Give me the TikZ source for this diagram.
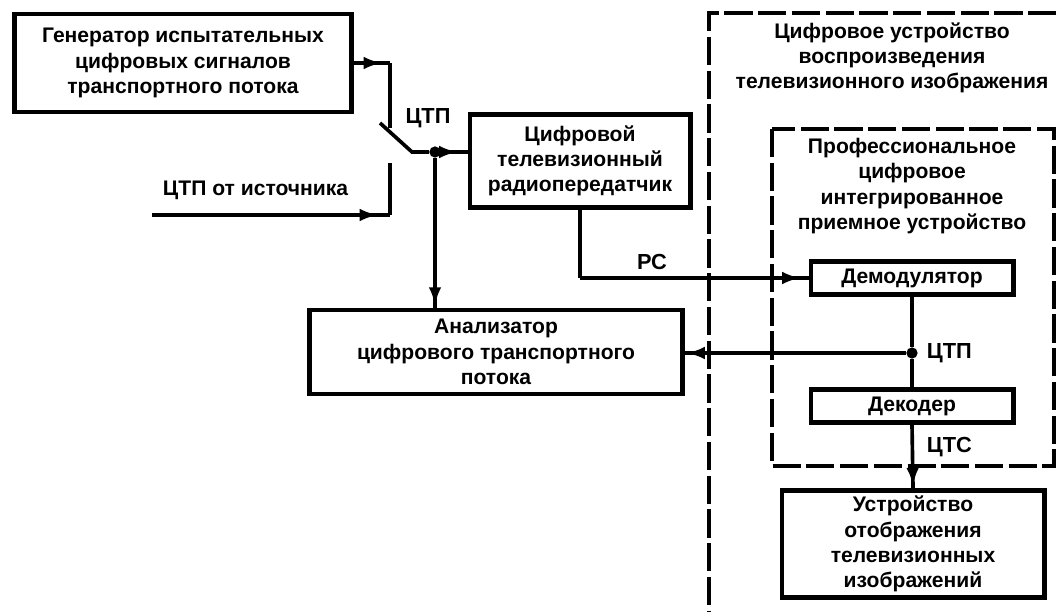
\documentclass[tikz,border=0pt]{standalone}
\usepackage{fontspec}
\setmainfont{Liberation Sans}
\usetikzlibrary{arrows.meta,decorations.markings}

\begin{document}
\begin{tikzpicture}[x=0.025cm, y=-0.025cm,
	txt/.style={font=\bfseries\fontsize{15}{18}\selectfont, align=center},
	lbl/.style={font=\bfseries\fontsize{15.5}{18}\selectfont},
	box/.style={txt, draw, line width=3.5pt, inner sep=0pt},
	conn/.style={line width=2.6pt},
	dashbox/.style={line width=2.2pt, dash pattern=on 20pt off 4pt},
	arrowmark/.style={postaction={decorate}, decoration={markings,
		mark=at position #1 with {\arrow{Latex[length=13pt,width=9pt]}}}},
	dot/.style={circle, fill, inner sep=0pt, minimum size=8pt}]
	\useasboundingbox (0,0) rectangle (1062,611);
	\clip (0,0) rectangle (1062,611);

	% device frames
	\draw[dashbox] (1090,13) -- (709,13) -- (709,640);
	\draw[dashbox] (772,129) rectangle (1054,466);
	\node[txt] (rx) at (892,58) {Цифровое устройство\\воспроизведения\\телевизионного изображения};
	\node[txt] (ird) at (912,186) {Профессиональное\\цифровое\\интегрированное\\приемное устройство};

	% blocks
	\node[box, minimum width=8.4cm, minimum height=2.45cm] (gen) at (183,63) {Генератор испытательных\\цифровых сигналов\\транспортного потока};
	\node[box, minimum width=5.5cm, minimum height=2.325cm] (tx) at (580,161) {Цифровой\\телевизионный\\радиопередатчик};
	\node[box, minimum width=9.3cm, minimum height=2.1cm] (an) at (496,352) {Анализатор\\цифрового транспортного\\потока};
	\node[box, minimum width=5.05cm, minimum height=0.825cm] (dem) at (912,278) {Демодулятор};
	\node[box, minimum width=5.05cm, minimum height=0.825cm] (dec) at (912,406) {Декодер};
	\node[box, minimum width=6.55cm, minimum height=2.675cm] (disp) at (913,544) {Устройство\\отображения\\телевизионных\\изображений};

	% switch
	\coordinate (upc) at (390,128);
	\coordinate (loc) at (390,163);
	\coordinate (blade) at (380,123);
	\coordinate (pv) at (412,152);
	\coordinate (src) at (152,215);
	\node[dot] (j1) at (435,152) {};
	\node[dot] (j2) at (912,353) {};

	\draw[conn, arrowmark=-0.2cm] (gen.east) -- (gen.east -| upc);
	\draw[conn] (gen.east -| upc) -- (upc);
	\draw[conn] (blade) -- (pv) -- (j1);
	\draw[conn, arrowmark=-0.3cm] (src) -- (src -| loc);
	\draw[conn] (src -| loc) -- (loc);
	\node[txt, anchor=south west] (srclbl) at (158,205) {ЦТП от источника};
	\node[lbl] (l1) at (428,118) {ЦТП};

	\draw[conn, arrowmark=-0.25cm] (j1) -- (tx.west |- j1);
	\draw[conn, arrowmark=-0.05cm] (j1) -- (j1 |- an.north);

	\draw[conn] (tx.south) -- (tx.south |- dem.west);
	\draw[conn, arrowmark=-0.2cm] (tx.south |- dem.west) -- (dem.west);
	\node[lbl] (l2) at (652,262) {РС};

	\draw[conn] (dem.south) -- (j2) -- (dec.north);
	\draw[conn, arrowmark=-0.05cm] (j2) -- (an.east |- j2);
	\node[lbl, anchor=west] (l3) at (922,353) {ЦТП};

	\draw[conn, arrowmark=-0.05cm] (dec.south) -- (disp.north);
	\node[lbl, anchor=west] (l4) at (922,447) {ЦТС};
\end{tikzpicture}
\end{document}
